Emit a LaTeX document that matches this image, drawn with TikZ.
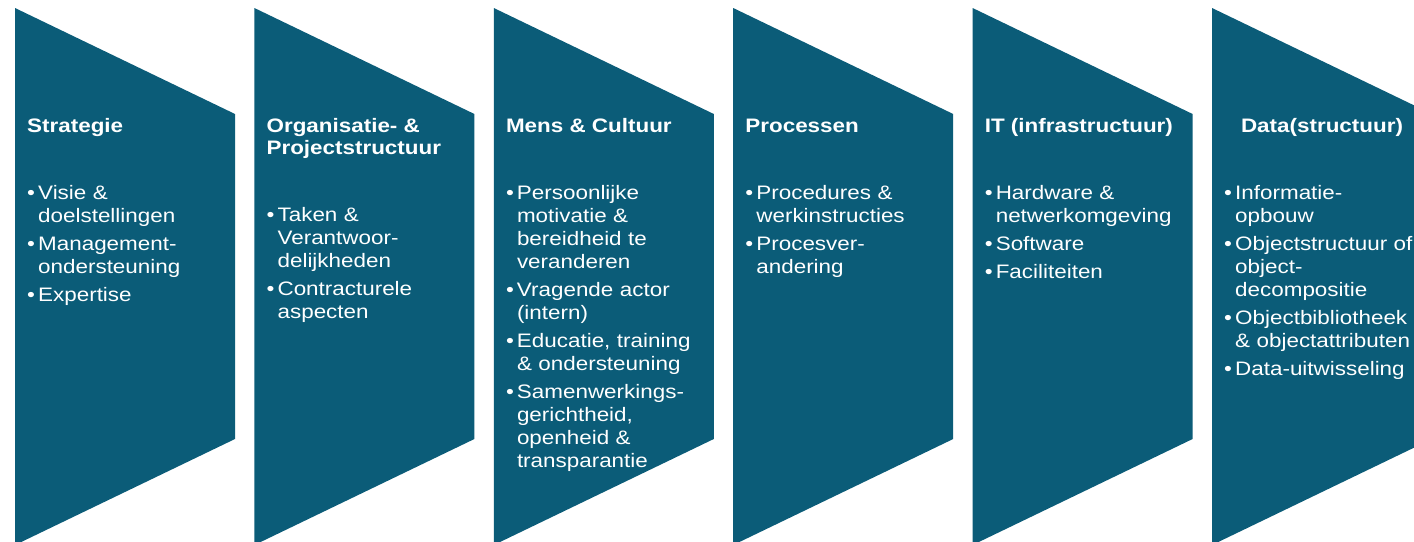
\documentclass[tikz,border=0pt]{standalone}
\usepackage{fontspec}
\setmainfont[FakeStretch=1.15]{Liberation Sans}
\definecolor{petrol}{RGB}{11,92,120}
\newcommand{\bitem}[1]{\par\hangindent=11pt\hangafter=1\noindent\makebox[11pt][l]{\strut\textbullet}#1\par}

\begin{document}
\begin{tikzpicture}[
			x=1pt, y=-1pt,
			pijl/.style={fill=petrol, draw=none},
			kop/.style={anchor=north west, inner sep=0pt, text=white, align=left,
				font=\fontsize{19.5}{22}\selectfont\bfseries},
			lijst/.style={anchor=north west, inner sep=0pt, text=white, text width=215pt,
				font=\fontsize{19.5}{23}\selectfont,
				execute at begin node={\setlength{\parskip}{5pt}}}
		]
			\useasboundingbox (0,0) rectangle (1414,541);
			\clip (0,0) rectangle (1414,541);
			% de zes pijlvormen
			\foreach \i in {0,...,5}
				\fill[pijl] ({15+239.4*\i},8) -- ++(220,106) -- ++(0,325) -- ++(-220,106) -- cycle;

			\node[kop] (strategie) at (27,116.6) {\strut Strategie};
			\node[kop] (organisatie) at (266.4,116.6) {\strut Organisatie- \&\\Projectstructuur};
			\node[kop] (mens) at (505.8,116.6) {\strut Mens \& Cultuur};
			\node[kop] (processen) at (745.2,116.6) {\strut Processen};
			\node[kop] (it) at (984.6,116.6) {\strut IT (infrastructuur)};
			\node[kop, anchor=north] (data) at (1322,116.6) {\strut Data(structuur)};

			\node[lijst] (strategie-lijst) at (27,170.9) {%
				\bitem{Visie \&\newline doelstellingen}%
				\bitem{Management-\newline ondersteuning}%
				\bitem{Expertise}};
			\node[lijst] (organisatie-lijst) at (266.4,192.9) {%
				\bitem{Taken \&\newline Verantwoor-\newline delijkheden}%
				\bitem{Contracturele\newline aspecten}};
			\node[lijst] (mens-lijst) at (505.8,170.9) {%
				\bitem{Persoonlijke\newline motivatie \&\newline bereidheid te\newline veranderen}%
				\bitem{Vragende actor\newline (intern)}%
				\bitem{Educatie, training\newline \& ondersteuning}%
				\bitem{Samenwerkings-\newline gerichtheid,\newline openheid \&\newline transparantie}};
			\node[lijst] (processen-lijst) at (745.2,170.9) {%
				\bitem{Procedures \&\newline werkinstructies}%
				\bitem{Procesver-\newline andering}};
			\node[lijst] (it-lijst) at (984.6,170.9) {%
				\bitem{Hardware \&\newline netwerkomgeving}%
				\bitem{Software}%
				\bitem{Faciliteiten}};
			\node[lijst] (data-lijst) at (1224,170.9) {%
				\bitem{Informatie-\newline opbouw}%
				\bitem{Objectstructuur of\newline object-\newline decompositie}%
				\bitem{Objectbibliotheek\newline \& objectattributen}%
				\bitem{Data-uitwisseling}};
		\end{tikzpicture}
\end{document}
